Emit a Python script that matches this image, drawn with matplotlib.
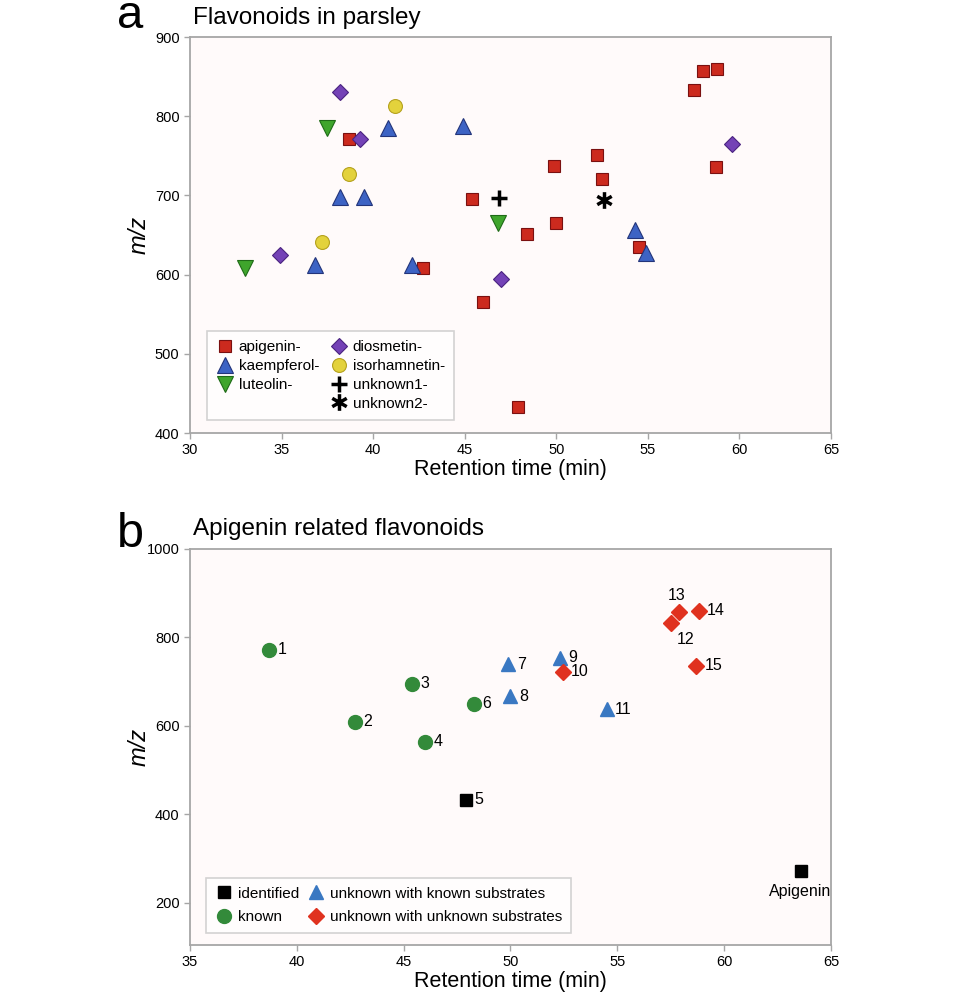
"""Flavonoid retention time / m/z maps for parsley (panels a and b)."""

import matplotlib

matplotlib.use("Agg")
import matplotlib.pyplot as plt
import numpy as np
from matplotlib.lines import Line2D
from matplotlib.path import Path

plt.rcParams["font.family"] = ["Liberation Sans", "DejaVu Sans"]

# ---- panel a: flavonoids in parsley (retention time, m/z) ----
apigenin_rt = [38.7, 45.4, 42.7, 46.0, 47.9, 48.4, 50.0, 49.9, 52.2, 52.5, 54.5, 57.5, 58.0, 58.8, 58.7]
apigenin_mz = [771, 695, 608, 565, 433, 651, 665, 737, 751, 721, 635, 833, 857, 860, 736]
kaempferol_rt = [40.8, 44.9, 38.2, 39.5, 36.8, 42.1, 54.3, 54.9]
kaempferol_mz = [785, 788, 698, 698, 612, 612, 656, 627]
luteolin_rt = [37.5, 46.8, 33.0]
luteolin_mz = [785, 665, 608]
diosmetin_rt = [38.2, 39.3, 34.9, 47.0, 59.6]
diosmetin_mz = [831, 771, 625, 594, 765]
isorhamnetin_rt = [41.2, 38.7, 37.2]
isorhamnetin_mz = [813, 727, 641]
unknown1_rt = [46.9]
unknown1_mz = [697]
unknown2_rt = [52.6]
unknown2_mz = [694]

# ---- panel b: apigenin related flavonoids ----
known_ids = ["1", "2", "3", "4", "6"]
known_rt = [38.7, 42.7, 45.4, 46.0, 48.3]
known_mz = [772, 609, 695, 564, 650]
identified_ids = ["5", "Apigenin"]
identified_rt = [47.9, 63.6]
identified_mz = [433, 273]
known_sub_ids = ["7", "8", "9", "11"]
known_sub_rt = [49.9, 50.0, 52.3, 54.5]
known_sub_mz = [740, 667, 754, 638]
unknown_sub_ids = ["10", "12", "13", "14", "15"]
unknown_sub_rt = [52.45, 57.5, 57.9, 58.8, 58.7]
unknown_sub_mz = [722, 833, 858, 860, 736]

SPINE = "#a6a6a6"
FACE = "#fffafa"

# six-armed asterisk drawn as three strokes through the centre
_angles = np.deg2rad([90, 30, 150])
_verts, _codes = [], []
for _a in _angles:
    _verts += [(np.cos(_a), np.sin(_a)), (-np.cos(_a), -np.sin(_a))]
    _codes += [Path.MOVETO, Path.LINETO]
ASTERISK = Path(_verts, _codes)


def style_axis(axis, xlim, ylim, xticks, yticks):
    axis.set_facecolor(FACE)
    axis.set_xlim(*xlim)
    axis.set_ylim(*ylim)
    axis.set_xticks(xticks)
    axis.set_yticks(yticks)
    for spine in axis.spines.values():
        spine.set_color(SPINE)
        spine.set_linewidth(1.3)
    axis.tick_params(colors=SPINE, labelcolor="black", labelsize=10.5, length=4, width=1)
    axis.set_xlabel("Retention time (min)", fontsize=15.5, labelpad=1)
    axis.set_ylabel("m/z", fontsize=17, style="italic")
    axis.yaxis.set_label_coords(-0.062, 0.5)


def legend_box(axis, handles, labels, **kwargs):
    legend = axis.legend(
        handles, labels, ncol=2, loc="lower left", fontsize=11, frameon=True,
        fancybox=False, edgecolor="#c8c8c8", handletextpad=0.3, borderpad=0.6,
        handlelength=1.2, borderaxespad=0, **kwargs,
    )
    legend.get_frame().set_linewidth(1.2)
    return legend


figure = plt.figure(figsize=(9.6, 9.92), dpi=100)
figure.patch.set_facecolor("white")

# panel a
axis_a = figure.add_axes([0.1979, 0.5635, 0.6677, 0.3992])
style_axis(axis_a, (30, 65), (400, 900), range(30, 66, 5), range(400, 901, 100))

pyramid = dict(linestyle="none", markeredgewidth=0.8)
series_a = [
    axis_a.plot(apigenin_rt, apigenin_mz, "s", ms=8, color="#cc2a1e", mec="#7a1010", **pyramid)[0],
    axis_a.plot(kaempferol_rt, kaempferol_mz, "^", ms=11, color="#3d63c4", mec="#23347a", **pyramid)[0],
    axis_a.plot(luteolin_rt, luteolin_mz, "v", ms=11, color="#3fa52c", mec="#1f6a17", **pyramid)[0],
    Line2D([], [], color="none", linestyle="none"),
    axis_a.plot(diosmetin_rt, diosmetin_mz, "D", ms=8, color="#7442b6", mec="#4a2380", **pyramid)[0],
    axis_a.plot(isorhamnetin_rt, isorhamnetin_mz, "o", ms=10, color="#e3d23c", mec="#b5a21f", **pyramid)[0],
    axis_a.plot(unknown1_rt, unknown1_mz, "+", ms=12, color="black", mew=2.5, linestyle="none")[0],
    axis_a.plot(unknown2_rt, unknown2_mz, marker=ASTERISK, ms=12, color="black", mec="black",
                mew=2.5, linestyle="none")[0],
]
labels_a = ["apigenin-", "kaempferol-", "luteolin-", " ", "diosmetin-", "isorhamnetin-", "unknown1-", "unknown2-"]
legend_box(axis_a, series_a, labels_a, bbox_to_anchor=(0.026, 0.033),
           columnspacing=0.7, labelspacing=0.32)

figure.text(0.122, 0.9718, "a", fontsize=34, va="baseline", ha="left")
figure.text(0.201, 0.9758, "Flavonoids in parsley", fontsize=17.5, va="baseline", ha="left")

# panel b
axis_b = figure.add_axes([0.1979, 0.0474, 0.6677, 0.3992])
style_axis(axis_b, (35, 65), (105, 1000), range(35, 66, 5), range(200, 1001, 200))

series_b = [
    axis_b.plot(identified_rt, identified_mz, "s", ms=8.5, color="black", linestyle="none")[0],
    axis_b.plot(known_rt, known_mz, "o", ms=10, color="#338a3a", linestyle="none")[0],
    axis_b.plot(known_sub_rt, known_sub_mz, "^", ms=10.5, color="#3a78c2", linestyle="none")[0],
    axis_b.plot(unknown_sub_rt, unknown_sub_mz, "D", ms=8.5, color="#e0321f", linestyle="none")[0],
]
labels_b = ["identified", "known", "unknown with known substrates", "unknown with unknown substrates"]

label_offsets = {"12": (4, -12), "13": (-2, 12), "Apigenin": (-1, -15)}
groups = [
    (identified_ids, identified_rt, identified_mz),
    (known_ids, known_rt, known_mz),
    (known_sub_ids, known_sub_rt, known_sub_mz),
    (unknown_sub_ids, unknown_sub_rt, unknown_sub_mz),
]
for ids, rts, mzs in groups:
    for point_id, rt, mz in zip(ids, rts, mzs):
        dx, dy = label_offsets.get(point_id, (6, 0))
        ha = "center" if point_id in ("13", "Apigenin") else "left"
        axis_b.annotate(point_id, (rt, mz), xytext=(dx, dy), textcoords="offset points",
                        fontsize=11.5, ha=ha, va="center")

legend_box(axis_b, series_b, labels_b, bbox_to_anchor=(0.025, 0.03),
           columnspacing=0.5, labelspacing=0.6)

figure.text(0.122, 0.4486, "b", fontsize=35, va="baseline", ha="left")
figure.text(0.201, 0.4607, "Apigenin related flavonoids", fontsize=17.5, va="baseline", ha="left")

figure.savefig("out.png", dpi=100)
plt.close(figure)
